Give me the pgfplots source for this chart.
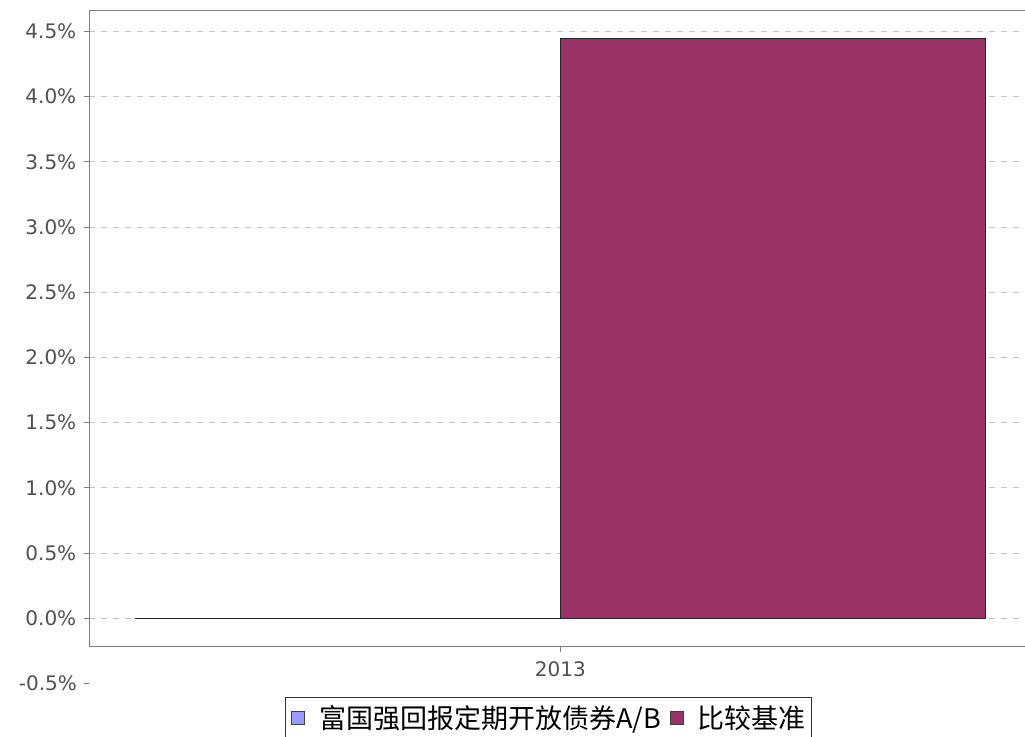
\documentclass[border=0pt]{standalone}
\usepackage{pgfplots}
\pgfplotsset{compat=1.18}
\usepackage{fontspec}
\setmainfont{DejaVu Sans}
\newfontfamily\cjk{Noto Sans CJK SC}
\definecolor{serA}{RGB}{153,153,255}
\definecolor{serB}{RGB}{153,51,102}
\definecolor{ticktext}{RGB}{80,80,80}
\definecolor{framegray}{RGB}{128,128,128}
\definecolor{gridgray}{RGB}{195,195,195}
\begin{document}
\begin{tikzpicture}
% page = 1025x737 px at 0.5pt per px
\path[use as bounding box] (0,0) rectangle (512.5pt,-368.5pt);
\begin{axis}[
    name=ax,
    anchor=south west,
    at={(44.65pt,-323.35pt)},
    scale only axis,
    width=471pt, height=318pt,
    xmin=-1.107, xmax=1.107,
    ymin=-0.218, ymax=4.659,
    clip=false,
    axis line style={framegray, line width=0.6pt},
    xtick={0}, xticklabels={2013},
    ytick={0,0.5,...,4.5},
    yticklabel={\pgfmathprintnumber[fixed,fixed zerofill,precision=1]{\tick}\%},
    /pgf/number format/assume math mode=true,
    tick align=outside,
    xtick pos=bottom, ytick pos=left,
    major tick length=2.5pt,
    tick style={framegray, line width=0.5pt},
    ticklabel style={font=\fontsize{10}{11}\selectfont, text=ticktext},
    yticklabel style={xshift=-0.5pt},
    xticklabel style={yshift=-1.5pt},
    ymajorgrids,
    grid style={gridgray, dashed, line width=0.4pt},
    legend columns=2,
    legend style={
        at={(0.4874,-0.0786)}, anchor=north,
        draw=black!80, line width=0.5pt,
        font=\cjk\fontsize{13.5}{15}\selectfont,
        inner xsep=3pt, inner ysep=3pt,
        nodes={inner xsep=0pt, inner ysep=1pt},
        /tikz/every odd column/.append style={column sep=7pt},
        /tikz/every even column/.append style={column sep=4.5pt},
    },
    legend image code/.code={\draw[#1, draw=black!75, line width=0.5pt] (0pt,-3.2pt) rectangle (6.4pt,3.2pt);},
]
\addplot[ybar, bar width=1, bar shift=0pt, fill=serA, draw=black!85, line width=0.6pt]
    coordinates {(-0.5,0)};
\addplot[ybar, bar width=1, bar shift=0pt, fill=serB, draw=black!85, line width=0.6pt]
    coordinates {(0.5,4.444)};
\legend{富国强回报定期开放债券A/B, 比较基准}
% the -0.5% tick lies outside the plotted range in the original
\draw[framegray, line width=0.5pt] ([xshift=-2.5pt]axis cs:-1.107,-0.5) -- (axis cs:-1.107,-0.5);
\node[anchor=east, text=ticktext, font=\fontsize{10}{11}\selectfont, inner sep=0pt]
    at ([xshift=-6pt]axis cs:-1.107,-0.5) {-0.5\%};
\end{axis}
\end{tikzpicture}
\end{document}
